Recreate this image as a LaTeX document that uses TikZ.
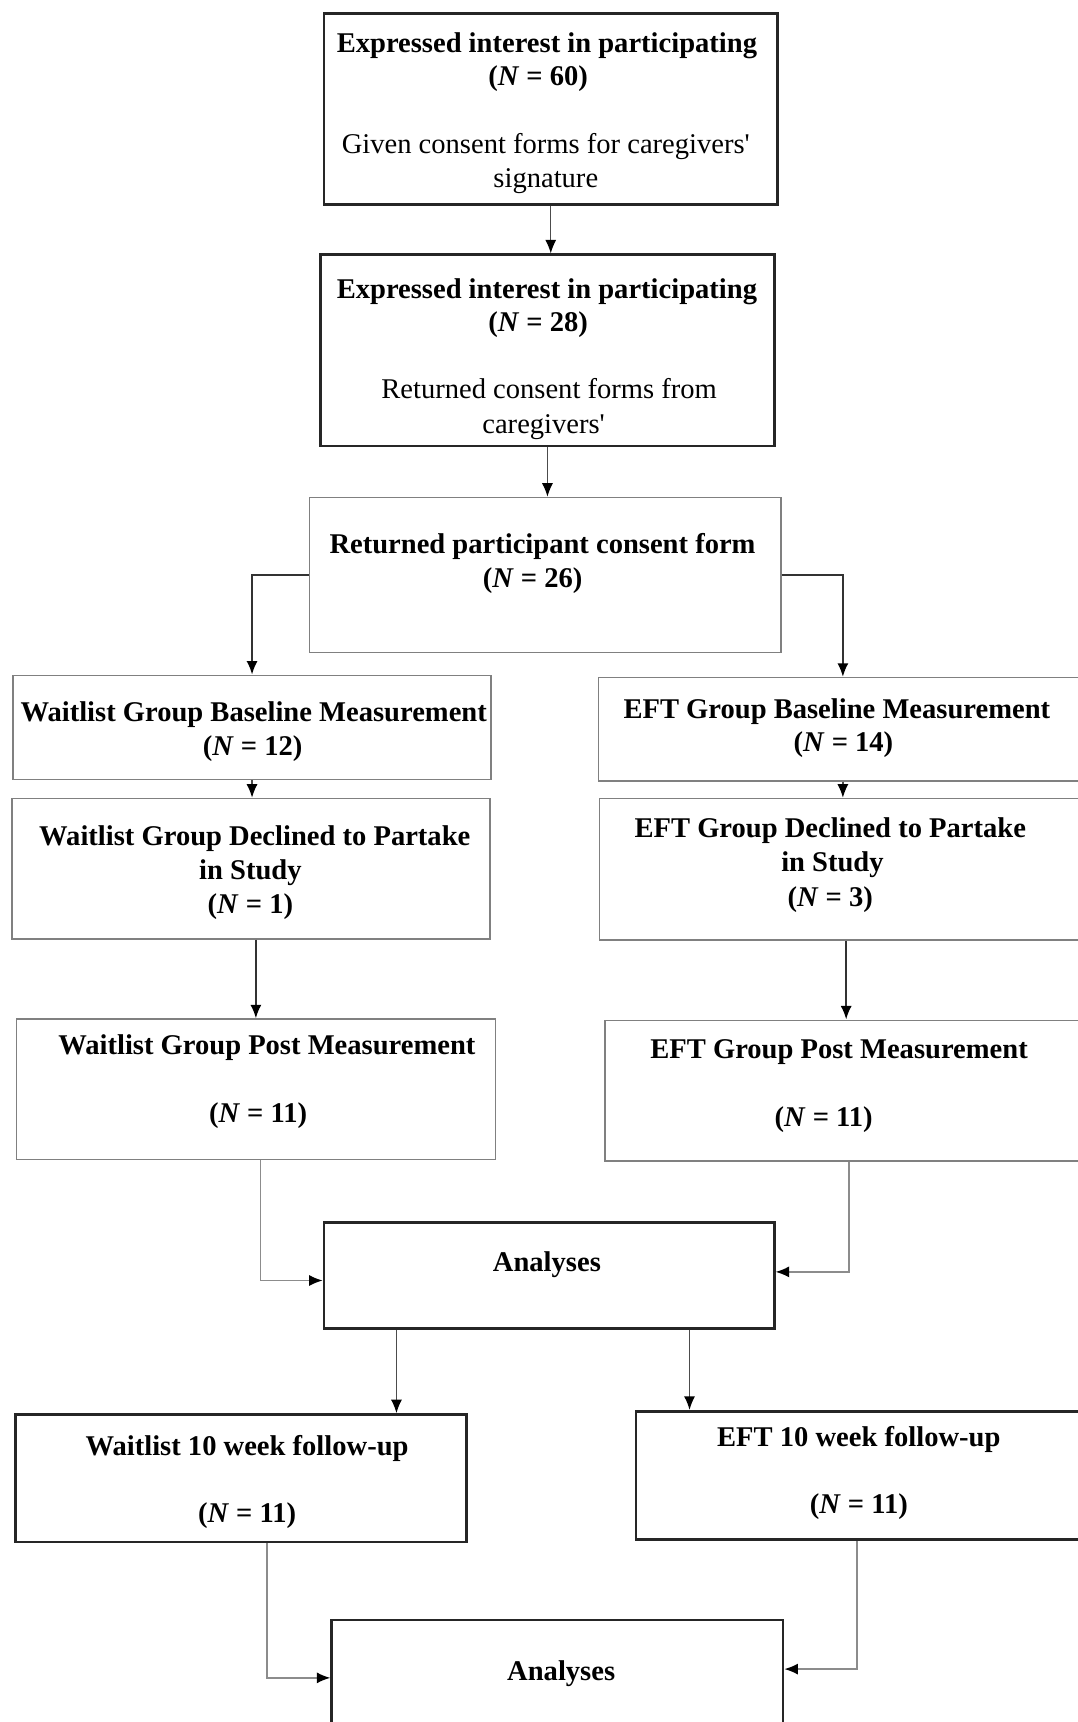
\documentclass[tikz,border=0pt]{standalone}
\usepackage{fontspec}
\setmainfont{Liberation Serif}
\usetikzlibrary{fit,calc,arrows.meta}
\begin{document}
\begin{tikzpicture}[x=0.446pt,y=-0.446pt,
  thickbox/.style={draw=black!85, line width=1.1pt, inner sep=0pt},
  thinbox/.style={draw=black!50, line width=0.6pt, inner sep=0pt},
  txt/.style={font=\fontsize{11.6}{13.8}\selectfont\bfseries, align=center, inner sep=0pt, anchor=base},
  rtxt/.style={font=\fontsize{11.6}{13.8}\selectfont, align=center, inner sep=0pt, anchor=base},
  medarr/.style={draw=black!80, line width=0.8pt, -{Latex[length=5.5pt,width=4.5pt,color=black]}},
  thinarr/.style={draw=black!70, line width=0.55pt, -{Latex[length=5.5pt,width=4.5pt,color=black]}},
  grayarr/.style={draw=black!45, line width=0.6pt, -{Latex[length=5.5pt,width=4.5pt,color=black]}}]
\useasboundingbox (0,0) rectangle (981,1568);
\fill[white] (0,0) rectangle (981,1568);
% boxes
\node[thickbox, fit={(295,12) (708,186)}] (b1) {};
\node[thickbox, fit={(292,232) (705,406)}] (b2) {};
\node[thinbox, fit={(282,453) (711,594)}] (b3) {};
\node[thinbox, fit={(12,615) (447,710)}] (wb) {};
\node[thinbox, fit={(545,617) (990,711)}] (eb) {};
\node[thinbox, fit={(11,727) (446,855)}] (wd) {};
\node[thinbox, fit={(546,727) (990,856)}] (ed) {};
\node[thinbox, fit={(15,928) (451,1056)}] (wp) {};
\node[thinbox, fit={(551,929) (990,1057)}] (ep) {};
\node[thickbox, fit={(295,1113) (705,1210)}] (a1) {};
\node[thickbox, fit={(14,1288) (425,1404)}] (wf) {};
\node[thickbox, fit={(579,1285) (990,1402)}] (ef) {};
\node[thickbox, fit={(302,1475) (713,1590)}] (a2) {};
% texts
\node[txt] (t1a) at (498,48) {Expressed interest in participating};
\node[txt] (t1b) at (490,78) {(\textit{N} = 60)};
\node[rtxt] (t1c) at (497,140) {Given consent forms for caregivers\textquotesingle};
\node[rtxt] (t1d) at (497,171) {signature};
\node[txt] (t2a) at (498,272) {Expressed interest in participating};
\node[txt] (t2b) at (490,302) {(\textit{N} = 28)};
\node[rtxt] (t2c) at (500,363) {Returned consent forms from};
\node[rtxt] (t2d) at (495,395) {caregivers\textquotesingle};
\node[txt] (t3a) at (494,504) {Returned participant consent form};
\node[txt] (t3b) at (485,535) {(\textit{N} = 26)};
\node[txt] (twba) at (231,657) {Waitlist Group Baseline Measurement};
\node[txt] (twbb) at (230,688) {(\textit{N} = 12)};
\node[txt] (teba) at (762,654) {EFT Group Baseline Measurement};
\node[txt] (tebb) at (768,684) {(\textit{N} = 14)};
\node[txt] (twda) at (232,770) {Waitlist Group Declined to Partake};
\node[txt] (twdb) at (228,801) {in Study};
\node[txt] (twdc) at (228,832) {(\textit{N} = 1)};
\node[txt] (teda) at (756,763) {EFT Group Declined to Partake};
\node[txt] (tedb) at (758,794) {in Study};
\node[txt] (tedc) at (756,825) {(\textit{N} = 3)};
\node[txt] (twpa) at (243,960) {Waitlist Group Post Measurement};
\node[txt] (twpb) at (235,1022) {(\textit{N} = 11)};
\node[txt] (tepa) at (764,964) {EFT Group Post Measurement};
\node[txt] (tepb) at (750,1026) {(\textit{N} = 11)};
\node[txt] (ta1) at (498,1158) {Analyses};
\node[txt] (twfa) at (225,1325) {Waitlist 10 week follow-up};
\node[txt] (twfb) at (225,1386) {(\textit{N} = 11)};
\node[txt] (tefa) at (782,1317) {EFT 10 week follow-up};
\node[txt] (tefb) at (782,1378) {(\textit{N} = 11)};
\node[txt] (ta2) at (511,1530) {Analyses};
% connectors
\draw[thinarr] (b1.south) -- (b1.south |- b2.north);
\draw[thinarr] (b2.south) -- (b2.south |- b3.north);
\draw[medarr] (b3.west) -| (wb.north);
\draw[medarr] (b3.east) -| (eb.north);
\draw[thinarr] (wb.south) -- (wb.south |- wd.north);
\draw[thinarr] (eb.south) -- (eb.south |- ed.north);
\draw[medarr] (wp.north |- wd.south) -- (wp.north);
\draw[medarr] (ep.north |- ed.south) -- (ep.north);
\coordinate (wpo) at ($(wp.south west)!0.51!(wp.south east)$);
\coordinate (epo) at ($(ep.south west)!0.506!(ep.south east)$);
\draw[grayarr] (wpo) |- ([yshift=-2pt]a1.west);
\draw[grayarr] (epo) |- ([yshift=1.5pt]a1.east);
\coordinate (a1l) at ($(a1.south west)!0.163!(a1.south east)$);
\coordinate (a1r) at ($(a1.south west)!0.81!(a1.south east)$);
\draw[thinarr] (a1l) -- (a1l |- wf.north);
\draw[thinarr] (a1r) -- (a1r |- ef.north);
\coordinate (wfo) at ($(wf.south west)!0.557!(wf.south east)$);
\coordinate (efo) at ($(ef.south west)!0.49!(ef.south east)$);
\coordinate (a2l) at ($(a2.north west)!0.46!(a2.south west)$);
\coordinate (a2r) at ($(a2.north east)!0.392!(a2.south east)$);
\draw[grayarr] (wfo) |- (a2l);
\draw[grayarr] (efo) |- (a2r);
\end{tikzpicture}
\end{document}
